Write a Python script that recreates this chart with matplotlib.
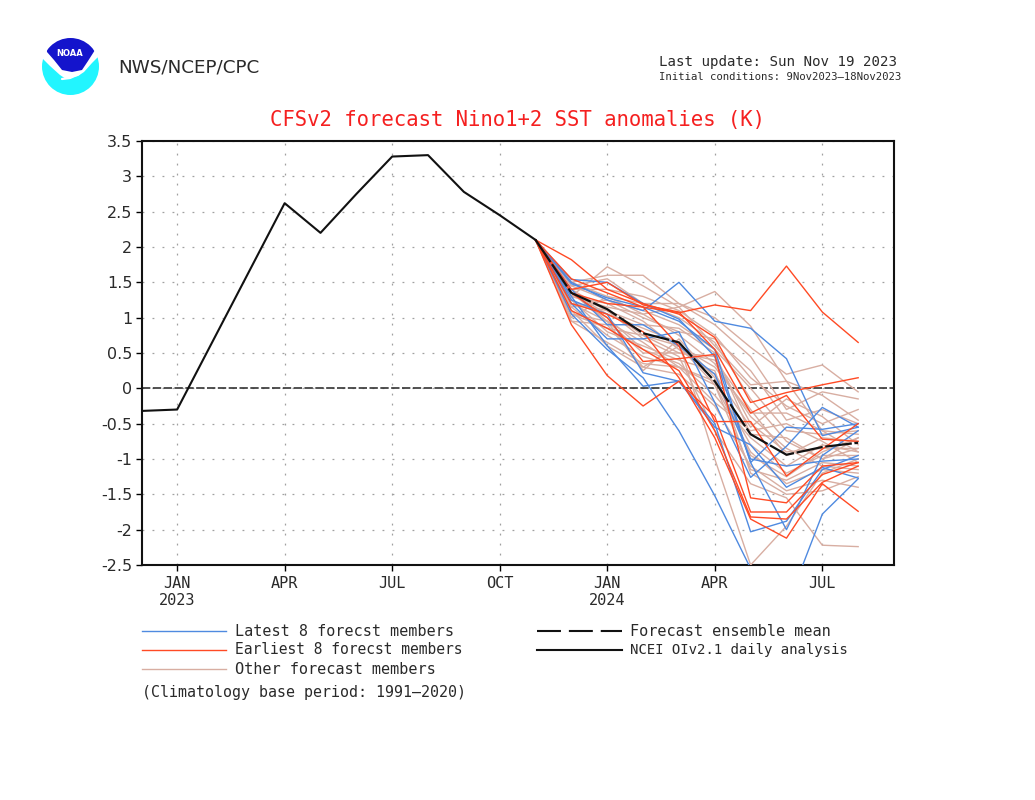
import matplotlib
matplotlib.use("Agg")
import matplotlib.pyplot as plt
from matplotlib.patches import Circle, Polygon

W, H = 1035, 800

# ---- data ----
analysis_month = [-1, 0, 3, 4, 5, 6, 7, 8, 9, 10]
analysis_value = [-0.32, -0.30, 2.62, 2.20, 2.75, 3.28, 3.30, 2.78, 2.45, 2.10]

forecast_month = [10, 11, 12, 13, 14, 15, 16, 17, 18, 19]
ensemble_mean = [2.10, 1.35, 1.12, 0.78, 0.65, 0.10, -0.65, -0.94, -0.83, -0.77]

latest_members = [
    [2.10, 1.50, 1.25, 1.10, 1.50, 0.95, 0.85, 0.42, -0.67, -0.55],
    [2.10, 1.05, 0.55, 0.15, -0.60, -1.52, -2.55, -3.10, -1.78, -1.28],
    [2.10, 1.30, 0.60, 0.03, 0.10, -0.50, -2.03, -1.88, -1.15, -0.95],
    [2.10, 1.48, 1.28, 1.15, 0.95, 0.55, -1.05, -2.00, -0.95, -0.60],
    [2.10, 1.54, 1.50, 1.20, 0.98, 0.45, -1.05, -0.55, -0.58, -0.50],
    [2.10, 1.20, 0.70, 0.70, 0.80, -0.20, -1.26, -0.82, -0.27, -0.55],
    [2.10, 1.25, 1.05, 0.22, 0.10, -0.55, -0.80, -1.40, -1.12, -1.27],
    [2.10, 1.40, 0.90, 0.90, 0.60, 0.20, -1.00, -1.10, -1.03, -1.00],
]
earliest_members = [
    [2.10, 1.55, 1.35, 1.15, 1.07, 1.18, 1.10, 1.73, 1.08, 0.65],
    [2.10, 1.35, 1.20, 1.15, 0.60, -0.47, -0.47, -1.24, -0.86, -0.50],
    [2.10, 1.82, 1.40, 1.20, 1.05, 0.72, -0.20, -0.06, 0.05, 0.15],
    [2.10, 1.40, 1.50, 1.18, 1.08, 0.55, -0.35, -0.10, -0.72, -0.75],
    [2.10, 1.35, 1.00, 0.38, 0.42, 0.48, -1.55, -1.62, -1.10, -1.05],
    [2.10, 0.90, 0.18, -0.25, 0.10, -0.40, -1.75, -1.75, -1.22, -1.05],
    [2.10, 1.10, 0.85, 0.55, 0.25, -0.60, -1.82, -1.85, -1.33, -1.10],
    [2.10, 1.20, 1.05, 0.80, 0.15, -0.70, -1.85, -2.12, -1.35, -1.74],
]
other_members = [
    [2.10, 1.30, 1.72, 1.45, 1.15, 1.37, 0.88, 0.10, -0.60, -0.90],
    [2.10, 1.50, 1.60, 1.60, 1.20, 1.00, 0.58, 0.20, 0.33, -0.05],
    [2.10, 1.45, 1.55, 1.20, 1.20, 0.90, 0.45, -0.30, -0.05, -0.15],
    [2.10, 1.40, 1.40, 1.30, 1.10, 0.75, 0.15, -0.25, -0.50, -0.30],
    [2.10, 1.00, 1.30, 1.05, 1.15, 0.60, 0.05, 0.10, -0.10, -0.45],
    [2.10, 0.95, 0.90, 0.30, 0.60, 0.30, -0.35, -0.35, -0.60, -0.65],
    [2.10, 1.05, 0.85, 0.75, 0.50, 0.45, -0.50, -0.90, -0.85, -0.85],
    [2.10, 1.20, 1.10, 0.90, 0.85, 0.50, -0.65, -0.70, -1.00, -0.70],
    [2.10, 1.25, 1.00, 0.55, 0.35, -0.10, -0.70, -1.10, -0.80, -0.90],
    [2.10, 1.35, 0.95, 0.65, 0.30, 0.10, -0.80, -1.20, -0.95, -0.95],
    [2.10, 1.15, 0.75, 0.45, 0.30, -0.20, -0.60, -0.50, -0.75, -1.05],
    [2.10, 1.30, 1.15, 1.05, 0.75, 0.35, -0.40, -0.85, -1.10, -1.15],
    [2.10, 1.45, 1.25, 1.10, 0.90, 0.55, 0.00, -0.60, -0.65, -0.60],
    [2.10, 1.10, 0.60, 0.30, 0.20, -0.25, -1.10, -1.45, -1.30, -1.40],
    [2.10, 0.95, 0.65, 0.35, 0.30, 0.05, -0.90, -1.35, -1.15, -1.20],
    [2.10, 1.25, 0.80, 0.60, 0.40, 0.25, -1.20, -1.50, -1.45, -1.25],
    [2.10, 1.35, 1.05, 0.85, 0.65, -1.00, -2.50, -1.95, -1.20, -1.00],
    [2.10, 1.40, 1.10, 0.70, 0.45, -0.60, -1.35, -1.55, -2.22, -2.24],
    [2.10, 1.20, 0.95, 0.50, 0.50, 0.40, -0.30, -0.95, -0.70, -0.75],
    [2.10, 1.30, 1.20, 0.95, 0.55, 0.20, -0.55, -0.15, -0.40, -0.80],
    [2.10, 1.15, 1.25, 1.00, 0.80, 0.70, 0.25, -0.45, -0.30, -0.50],
    [2.10, 1.05, 0.95, 0.25, 0.70, 0.15, -0.95, -1.25, -0.90, -0.70],
    [2.10, 1.50, 1.30, 1.20, 1.00, 0.65, -0.15, -0.75, -1.00, -0.85],
    [2.10, 1.35, 1.10, 0.75, 0.60, 0.05, -1.15, -1.30, -1.05, -1.10],
]

month_ticks = [0, 3, 6, 9, 12, 15, 18]
month_labels = ["JAN\n2023", "APR", "JUL", "OCT", "JAN\n2024", "APR", "JUL"]
value_ticks = [3.5, 3, 2.5, 2, 1.5, 1, 0.5, 0, -0.5, -1, -1.5, -2, -2.5]
value_labels = ["3.5", "3", "2.5", "2", "1.5", "1", "0.5", "0", "-0.5", "-1", "-1.5", "-2", "-2.5"]

# ---- styling ----
BLUE, RED, OTHER = "#4f8ae0", "#ff4a24", "#d8aea2"
TXT = "#2a2a2a"
MONO = "DejaVu Sans Mono"
plt.rcParams["font.family"] = "DejaVu Sans"

fig = plt.figure(figsize=(W / 100, H / 100), dpi=100)
L, R, T, B = 142, 894, 141, 565
ax = fig.add_axes([L / W, 1 - B / H, (R - L) / W, (B - T) / H])
ax.set_xlim(-0.98, 20.0)
ax.set_ylim(-2.5, 3.5)

ax.grid(True, ls=(0, (1.5, 6.5)), lw=0.9, color="#a0a0a0")
ax.set_axisbelow(True)
ax.set_xticks(month_ticks, month_labels, fontsize=11, color=TXT, linespacing=1.18, family=MONO)
ax.set_yticks(value_ticks, value_labels, fontsize=11.5, color=TXT)
ax.tick_params(axis="x", length=4, width=1.0, pad=4, top=False)
ax.tick_params(axis="y", length=4, width=1.0, pad=3)
for s in ax.spines.values():
    s.set_linewidth(1.5)
    s.set_color("#111111")

ax.axhline(0, color="#333333", lw=1.2, ls=(0, (5, 1.5)), zorder=2)

for m in other_members:
    ax.plot(forecast_month, m, color=OTHER, lw=1.0, zorder=3)
for m in latest_members:
    ax.plot(forecast_month, m, color=BLUE, lw=1.0, zorder=4)
for m in earliest_members:
    ax.plot(forecast_month, m, color=RED, lw=1.0, zorder=5)
ax.plot(analysis_month, analysis_value, color="#111111", lw=1.5, zorder=6)
ax.plot(forecast_month, ensemble_mean, color="#111111", lw=1.6, ls=(0, (12, 1.2)), zorder=6)

# ---- overlay in pixel coordinates ----
ov = fig.add_axes([0, 0, 1, 1], facecolor="none")
ov.set_xlim(0, W)
ov.set_ylim(H, 0)
ov.axis("off")

def txt(x, y, s, size=11, color=TXT, ha="left", family=MONO, **kw):
    ov.text(x, y, s, fontsize=size, color=color, ha=ha, va="center", family=family, **kw)

# logo
clip = Circle((70.5, 66.5), 28.5, transform=ov.transData)
ov.add_patch(Circle((70.5, 66.5), 28.5, fc="white", ec="none"))
cy = Polygon([(38, 54), (50, 66), (60, 75), (66, 79), (78, 76), (84, 72), (92, 63), (102, 53), (102, 98), (38, 98)],
             fc="#22f5ff", ec="none")
bl = Polygon([(45, 36), (96, 36), (95, 50), (88, 61), (82, 70), (72, 72), (62, 70), (54, 60), (47, 52)],
             fc="#1414cc", ec="none")
ov.add_patch(cy)
ov.add_patch(bl)
cy.set_clip_path(clip)
bl.set_clip_path(clip)
ov.plot([62, 70, 79], [79, 78, 74], color="white", lw=1.6, solid_capstyle="round")
txt(70, 54, "NOAA", size=6, color="white", ha="center", family="DejaVu Sans", weight="bold")

txt(118, 67, "NWS/NCEP/CPC", size=13.2, family="DejaVu Sans")
txt(659, 62, "Last update: Sun Nov 19 2023", size=10.2)
txt(659, 77, "Initial conditions: 9Nov2023\u201418Nov2023", size=7.65)
txt(517, 120, "CFSv2 forecast Nino1+2 SST anomalies (K)", size=14.9, color="#f52020", ha="center")

# legend
LEGEND_DASH = (0, (11.5, 3.8))
legend_rows = [
    (142, 226, 631, 235, "Latest 8 forecst members", BLUE, "-", 1.0, 10.9),
    (142, 226, 650, 235, "Earliest 8 forecst members", RED, "-", 1.0, 10.5),
    (142, 226, 669, 235, "Other forecast members", OTHER, "-", 1.0, 11.0),
    (537, 622, 631, 630, "Forecast ensemble mean", "#111111", LEGEND_DASH, 1.5, 11.0),
    (537, 622, 650, 630, "NCEI OIv2.1 daily analysis", "#111111", "-", 1.5, 10.1),
]
for x0, x1, y, tx, label, c, ls, lw, size in legend_rows:
    ov.plot([x0, x1], [y, y], color=c, ls=ls, lw=lw)
    txt(tx, y, label, size=size)
txt(142, 692, "(Climatology base period: 1991\u20142020)", size=10.8)

fig.savefig("out.png", dpi=100)
